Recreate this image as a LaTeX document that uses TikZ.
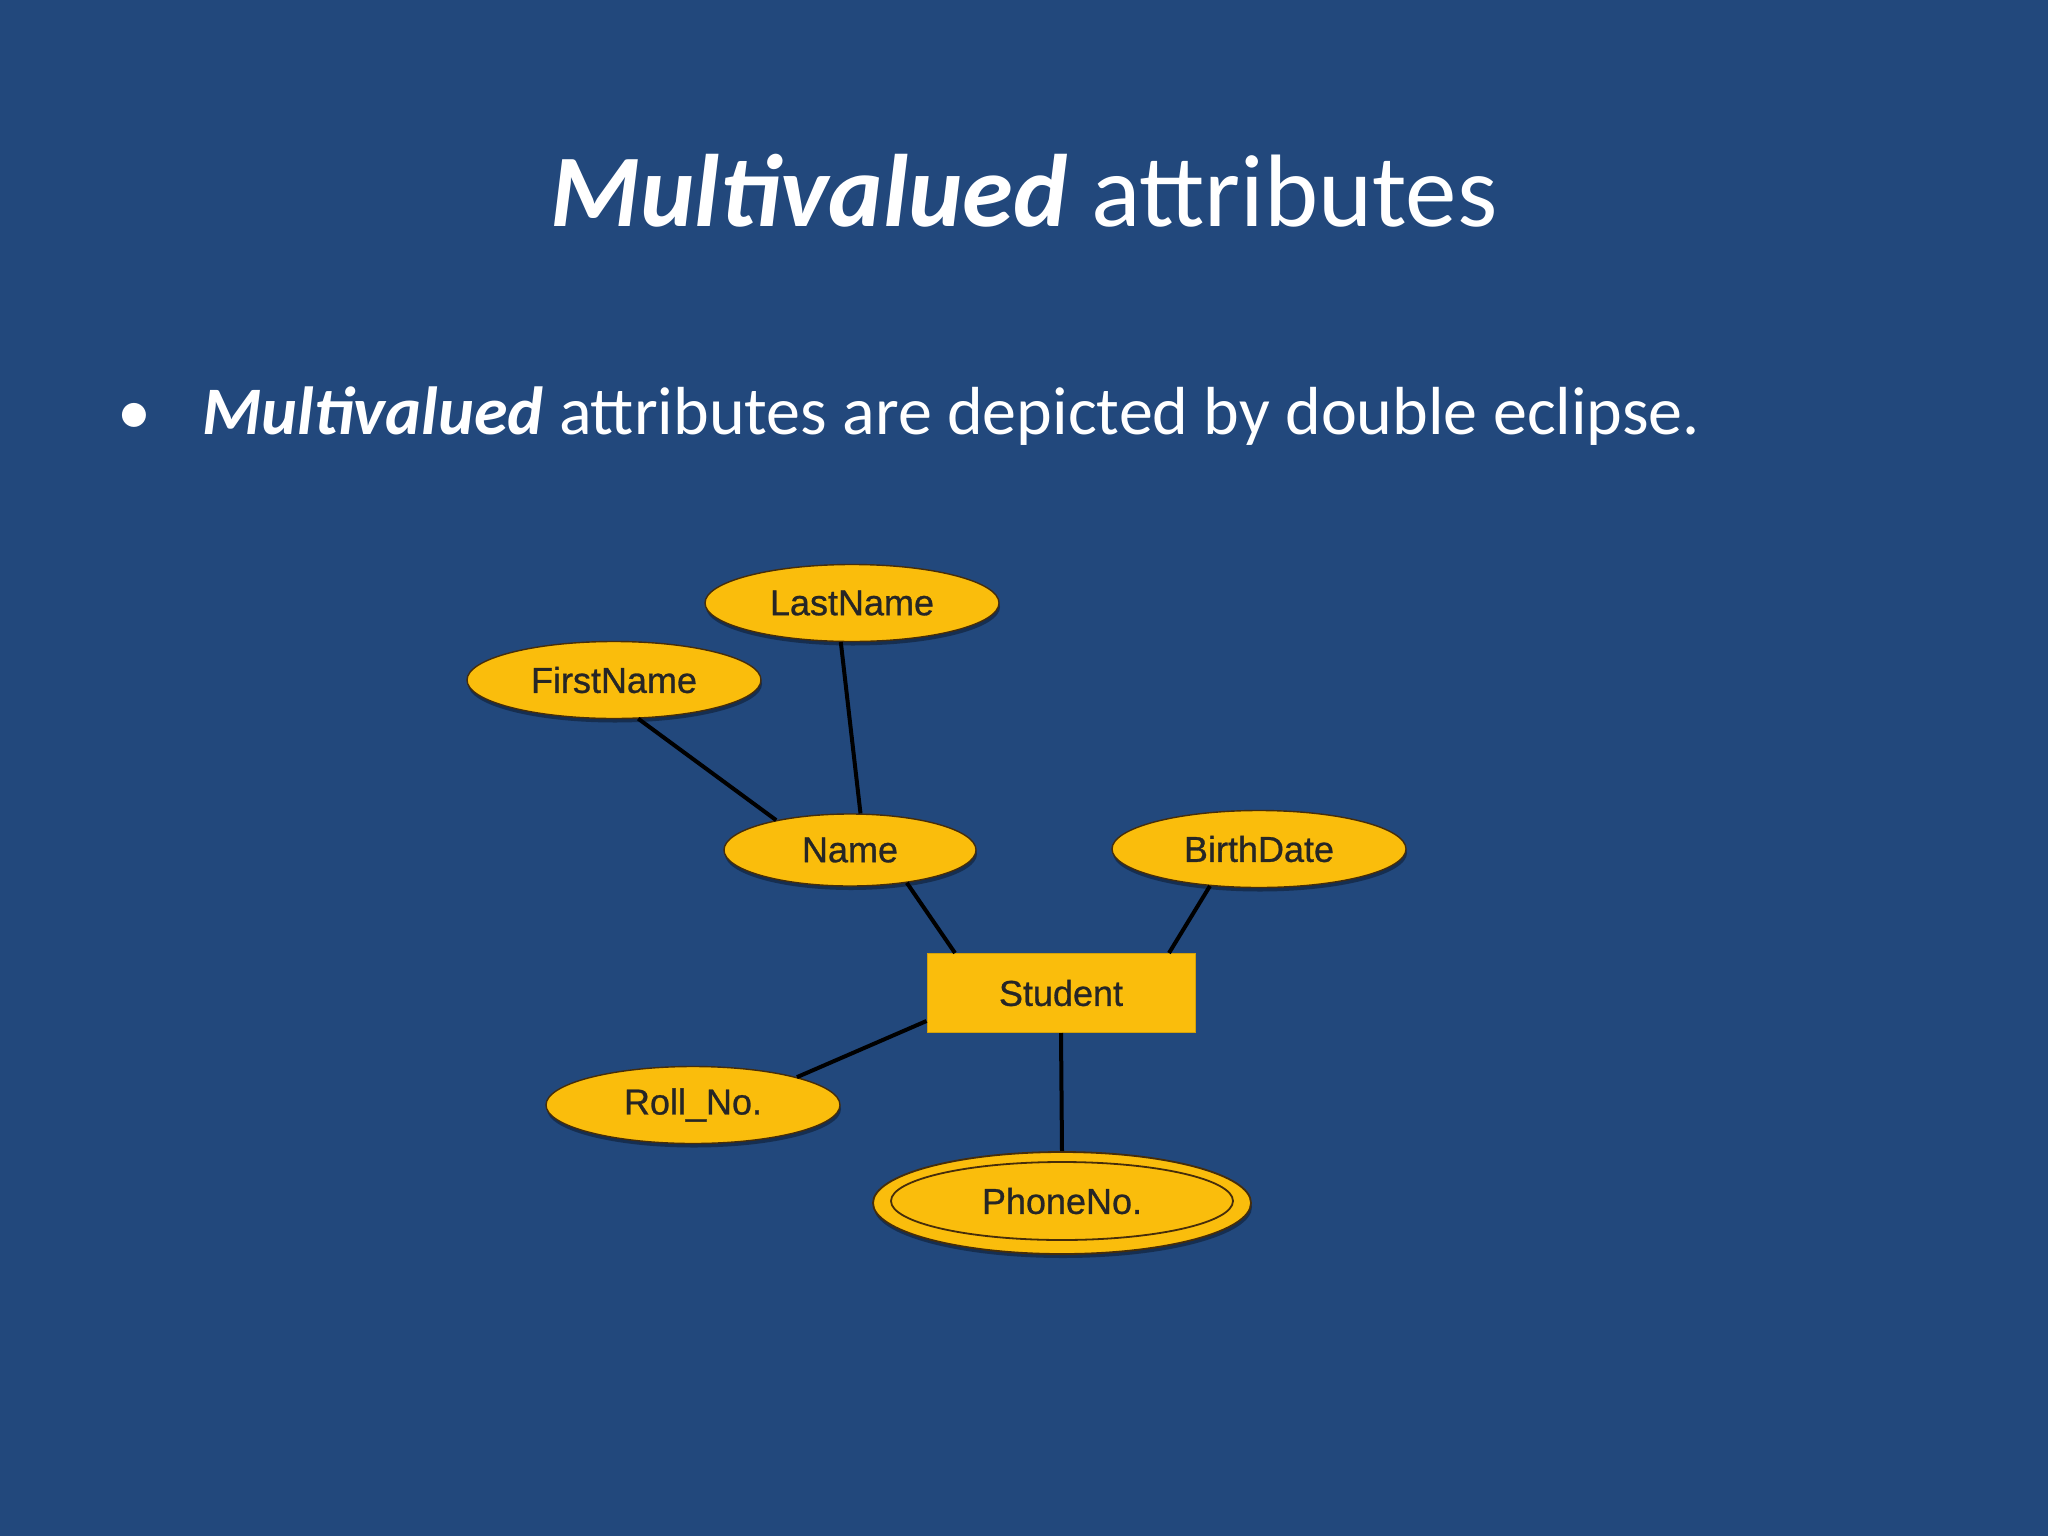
\documentclass[tikz,border=0pt]{standalone}
\usepackage{fontspec}
\setmainfont{Carlito}
\newfontfamily\erfont[FakeBold=0.8]{Liberation Sans}
\usetikzlibrary{shapes.geometric,shadows}
\definecolor{bg}{RGB}{34,72,124}
\definecolor{gold}{RGB}{250,189,12}
\definecolor{edgec}{RGB}{70,45,10}
\begin{document}
\begin{tikzpicture}[x=1pt,y=-1pt,
  attr/.style={ellipse, draw=edgec, line width=1.4pt, fill=gold, inner sep=0pt,
    minimum width=294pt, minimum height=77pt,
    font=\erfont\fontsize{36}{40}\selectfont, text=black!85,
    drop shadow={shadow xshift=1pt, shadow yshift=-4pt, opacity=0.35, fill=black}},
  entbox/.style={rectangle, fill=gold, draw=gold!85!black, line width=1pt, inner sep=0pt,
    minimum width=268pt, minimum height=79pt,
    font=\erfont\fontsize{36}{40}\selectfont, text=black!85},
  conn/.style={line width=4pt, black}]
\useasboundingbox (0,0) rectangle (2048,1536);
\fill[bg] (0,0) rectangle (2048,1536);

\node[anchor=base, text=white, font=\fontsize{103}{120}\selectfont] (title) at (1024,226)
  {\textbf{\textit{Multivalued}} attributes};
\node[anchor=base, text=white, font=\fontsize{68}{80}\selectfont] (bul) at (134,434) {\textbullet};
\node[anchor=base west, text=white, font=\fontsize{68}{80}\selectfont, inner sep=0pt] (btext) at (202,434)
  {\textbf{\textit{Multivalued}} attributes are depicted by double eclipse.};

\node[attr] (last) at (852,603) {LastName};
\node[attr] (first) at (614,680) {FirstName};
\node[attr, minimum width=252pt, minimum height=72pt] (name) at (850,850) {Name};
\node[attr] (birth) at (1259,849) {BirthDate};
\node[entbox] (student) at (1061,993) {Student};
\node[attr] (roll) at (693,1105) {Roll\_No.};
\node[attr, minimum width=378pt, minimum height=102pt, line width=1.8pt] (phone) at (1062,1203) {};
\node[ellipse, draw=edgec, line width=1.8pt, fill=gold, inner sep=0pt,
  minimum width=342pt, minimum height=78pt,
  font=\erfont\fontsize{36}{40}\selectfont, text=black!85] (phonein) at (1062,1201) {PhoneNo.};

\coordinate (sa) at ([xshift=-106pt]student.north);
\coordinate (sb) at ([xshift=108pt]student.north);
\coordinate (sc) at ([yshift=-28pt]student.west);

\draw[conn] (first.-58) -- (name.158);
\draw[conn] (last.-106) -- (name.74);
\draw[conn] (name.-30) -- (sa);
\draw[conn] (birth.-143) -- (sb);
\draw[conn] (roll.15) -- (sc);
\draw[conn] (student.south) -- (phone.north);
\end{tikzpicture}
\end{document}
